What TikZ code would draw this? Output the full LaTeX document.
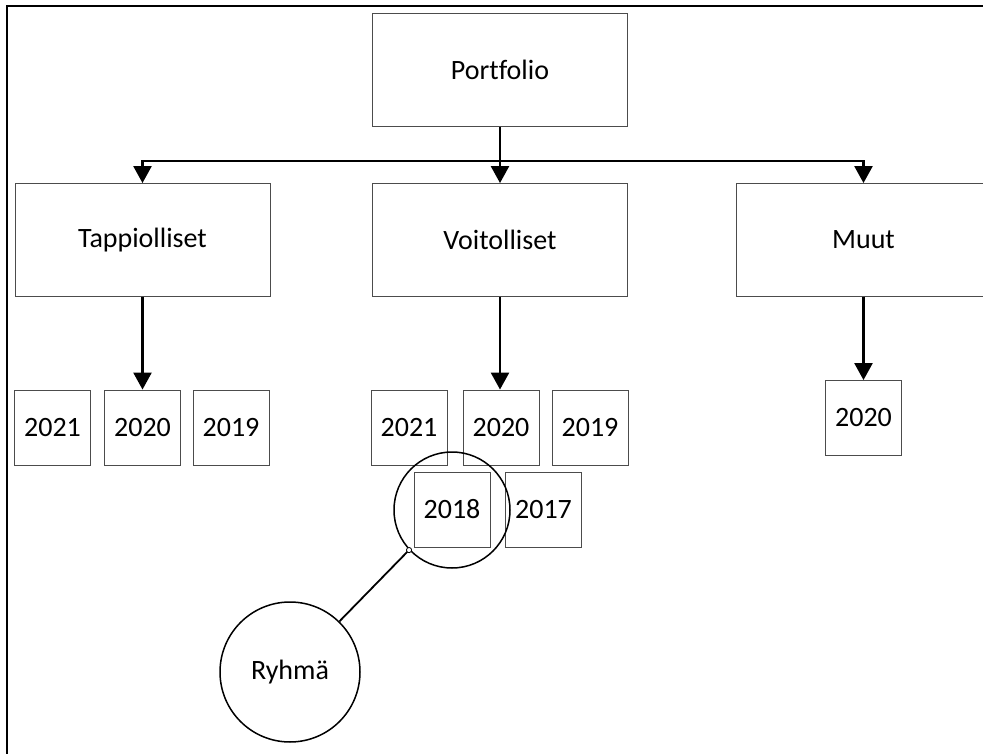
\documentclass[tikz,border=0pt]{standalone}
\usepackage{fontspec}
\setmainfont{Carlito}[Ligatures=NoCommon]
\usetikzlibrary{arrows.meta}
\begin{document}
\begin{tikzpicture}[x=1pt,y=-1pt,
  every node/.style={font=\fontsize{28}{32}\selectfont, inner sep=0pt},
  bigbox/.style={draw=black!70, line width=0.9pt, minimum width=255pt, minimum height=113pt},
  yearbox/.style={draw=black!70, line width=0.9pt, minimum width=76pt, minimum height=75pt},
  ringshape/.style={draw=black, line width=1.5pt, circle, minimum size=#1},
  arr/.style={line width=2.5pt, -{Triangle[width=18pt,length=17pt]}}
]
\clip (0,0) rectangle (983,754);
% outer frame (left and top edges)
\draw[line width=2.2pt] (7,760) -- (7,6) -- (990,6);

% top level and main groups
\node[bigbox] (port) at (500,70) {Portfolio};
\node[bigbox] (tap) at (142.5,240) {Tappiolliset};
\node[bigbox] (voit) at (500,240) {Voitolliset};
\node[bigbox] (muut) at (863.5,240) {Muut};

% years
\node[yearbox] (t21) at (52.5,427.5) {2021};
\node[yearbox] (t20) at (142.5,427.5) {2020};
\node[yearbox] (t19) at (231,427.5) {2019};
\node[yearbox] (v21) at (409,427.5) {2021};
\node[yearbox] (v20) at (501,427.5) {2020};
\node[yearbox] (v19) at (590,427.5) {2019};
\node[yearbox] (v18) at (452,509.5) {2018};
\node[yearbox] (v17) at (543.5,509.5) {2017};
\node[yearbox] (m20) at (863.5,418) {2020};

% grouping ring and its label
\node[ringshape=116pt] (ring) at (452,510) {};
\node[ringshape=140pt] (ryhma) at (290,672) {Ryhmä};

% connectors
\coordinate (j) at (500,161);
\draw[arr] (port.south) -- (voit.north);
\draw[arr] (j) -| (tap.north);
\draw[arr] (j) -| (muut.north);
\draw[arr] (tap.south) -- (t20.north);
\draw[arr] (voit.south) -- (voit.south |- v20.north);
\draw[arr] (muut.south) -- (m20.north);
\draw[line width=1.8pt] (ryhma) -- (ring.223.5);
\draw[line width=0.8pt, fill=white] (ring.223.5) circle (2.6pt);
\end{tikzpicture}
\end{document}
